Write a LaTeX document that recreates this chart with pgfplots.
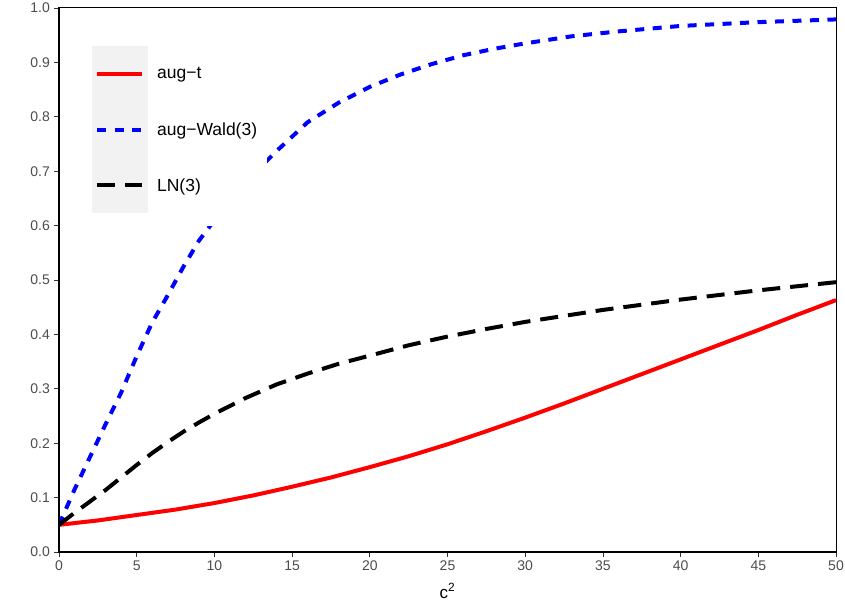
\documentclass[border=0pt]{standalone}
\usepackage{fontspec}
\setmainfont{Liberation Sans}
\usepackage{pgfplots}
\pgfplotsset{compat=1.18}
\usetikzlibrary{calc}
\definecolor{legendgray}{HTML}{F2F2F2}
\definecolor{ticklab}{HTML}{4D4D4D}
\definecolor{tickcol}{HTML}{333333}
\begin{document}
\begin{tikzpicture}
\begin{axis}[
  name=ax,
  scale only axis,
  width=777bp, height=544bp,
  xmin=0, xmax=50, ymin=0, ymax=1,
  xtick={0,5,...,50},
  ytick={0,0.1,...,1.0},
  xtick pos=left, ytick pos=left,
  tick align=outside,
  major tick length=4.5bp,
  every tick/.style={tickcol, line width=0.8bp},
  axis line style={line width=1bp},
  /pgf/number format/assume math mode=true,
  yticklabel style={/pgf/number format/fixed, /pgf/number format/fixed zerofill, /pgf/number format/precision=1, font=\fontsize{14bp}{16bp}\selectfont, text=ticklab, inner sep=0pt, xshift=-4.5bp},
  xticklabel style={font=\fontsize{14bp}{16bp}\selectfont, text=ticklab, inner sep=0pt, yshift=-4.5bp},
  xlabel={c\textsuperscript{2}},
  xlabel style={at={(axis description cs:0.5,0)}, anchor=base, yshift=-46bp, font=\fontsize{17bp}{20bp}\selectfont},
  legend style={draw=none, fill=white, at={(0.0425,0.954)}, anchor=north west,
    inner xsep=0pt, inner ysep=13bp,
    nodes={inner xsep=9.4bp, inner ysep=0pt, font=\fontsize{17.5bp}{20bp}\selectfont},
    row sep=0pt, column sep=0pt},
  legend cell align=left,
  legend image code/.code={
    \path[fill=legendgray, draw=none] (0bp,-27.85bp) rectangle (55.5bp,27.85bp);
    \draw[#1] (5bp,0bp) -- (49.7bp,0bp);
  },
]
\addplot[red, line width=4bp] coordinates {
(0,0.050) (2.5,0.058) (5,0.068) (7.5,0.078) (10,0.090) (12.5,0.104) (15,0.120)
(17.5,0.137) (20,0.156) (22.5,0.176) (25,0.198) (27.5,0.222) (30,0.247)
(32.5,0.273) (35,0.300) (37.5,0.327) (40,0.354) (42.5,0.381) (45,0.408)
(47.5,0.436) (50,0.463)};
\addlegendentry{aug−t}
\addplot[blue, line width=4bp, dash pattern=on 9bp off 8.5bp] coordinates {
(0,0.050) (1,0.115) (2,0.175) (3,0.235) (4,0.293) (5,0.360) (6,0.422) (7,0.472)
(8,0.524) (9,0.572) (10,0.610) (12,0.680) (14,0.737) (16,0.790) (18,0.826)
(20,0.855) (22,0.878) (24,0.897) (26,0.913) (28,0.925) (30,0.935) (33,0.948)
(36,0.957) (40,0.967) (45,0.974) (50,0.979)};
\addlegendentry{aug−Wald(3)}
\addplot[black, line width=4bp, dash pattern=on 18bp off 10bp] coordinates {
(0,0.050) (1,0.072) (2,0.093) (3,0.114) (4,0.137) (5,0.160) (6,0.182) (7,0.202)
(8,0.221) (9,0.238) (10,0.254) (12,0.283) (14,0.308) (16,0.328) (18,0.346)
(20,0.361) (22.5,0.380) (25,0.396) (27.5,0.410) (30,0.423) (35,0.445)
(40,0.464) (45,0.481) (50,0.496)};
\addlegendentry{LN(3)}
\end{axis}
\draw[line width=1.8bp, line cap=rect] (ax.north west) -- (ax.south west) -- (ax.south east);
\pgfresetboundingbox
\path[use as bounding box] ($(ax.south west)+(-59bp,-58bp)$) rectangle ($(ax.north east)+(9bp,8bp)$);
\end{tikzpicture}
\end{document}
